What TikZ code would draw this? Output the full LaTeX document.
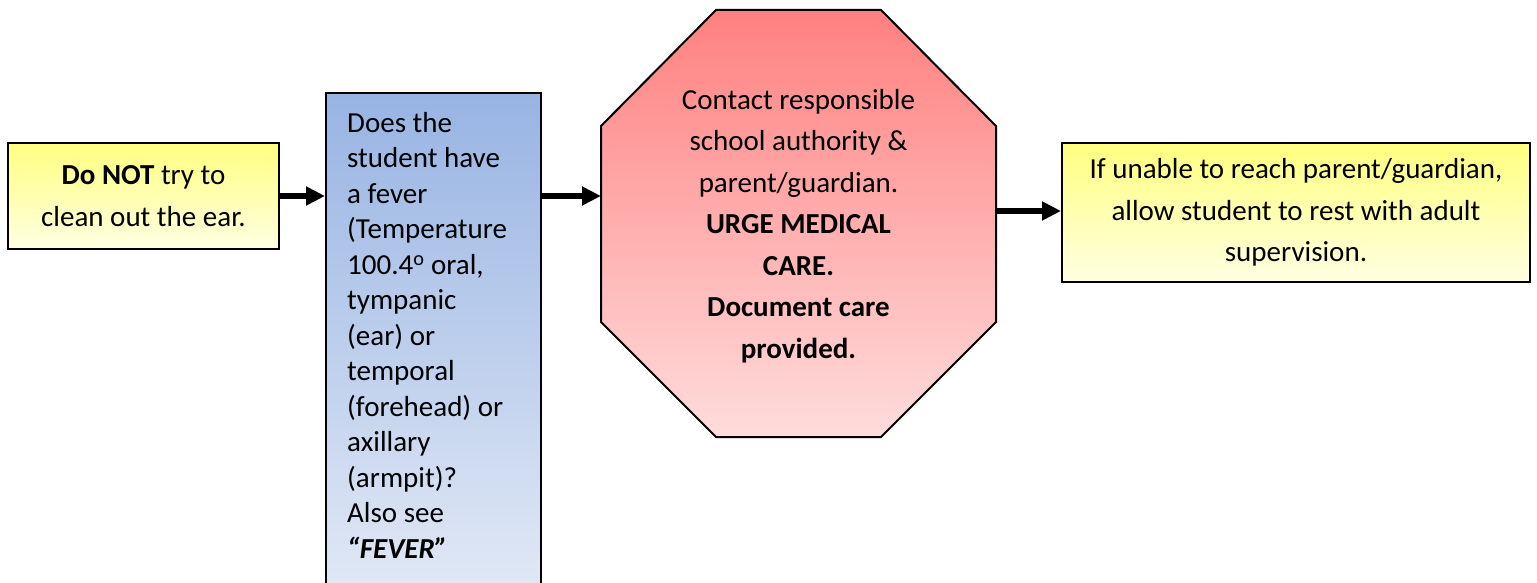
\documentclass[tikz,border=0pt]{standalone}
\usepackage{fontspec}
\setmainfont{Carlito}
\usetikzlibrary{arrows.meta,positioning}

\definecolor{yellowtop}{HTML}{FFFF80}
\definecolor{yellowbot}{HTML}{FFFFE2}
\definecolor{bluetop}{HTML}{98B4E3}
\definecolor{bluebot}{HTML}{E3EAF6}
\definecolor{redtop}{HTML}{FF8080}
\definecolor{redbot}{HTML}{FFDCDC}

\tikzset{
  box/.style={draw,line width=2pt,align=center,inner sep=0pt},
  yellowbox/.style={box,top color=yellowtop,bottom color=yellowbot},
  bluebox/.style={box,top color=bluetop,bottom color=bluebot},
  stopsign/.style={draw,line width=2pt,top color=redtop,bottom color=redbot},
  flow/.style={line width=6pt,-{Triangle[length=19pt,width=18pt]}},
}

\begin{document}
\begin{tikzpicture}[x=1pt,y=-1pt,font=\fontsize{29}{41.5}\selectfont]
\useasboundingbox (0,0) rectangle (1537,583);
\node[yellowbox,minimum width=271,minimum height=106] (noclean) at (143.5,196)
  {\textbf{Do NOT} try to\\clean out the ear.};
\node[bluebox,anchor=north west,minimum width=215,minimum height=512] (question) at (325,92) {};
\node[anchor=north west,align=left,inner sep=0pt,font=\fontsize{29}{35.5}\selectfont]
  (questiontext) at ([shift={(22,20)}]question.north west)
  {Does the\\student have\\a fever\\(Temperature\\100.4\textsuperscript{o} oral,\\tympanic\\(ear) or\\temporal\\(forehead) or\\axillary\\(armpit)?\\Also see\\\textbf{\textit{“FEVER”}}};
% octagon (stop sign)
\shade[stopsign] (716,10) -- (881,10) -- (996,126) -- (996,322) -- (881,437)
  -- (716,437) -- (601,322) -- (601,126) -- cycle;
\coordinate (stopW) at (601,196);
\coordinate (stopE) at (996,211);
\node[align=center,inner sep=0pt] (stop) at (798.5,226)
  {Contact responsible\\school authority \&\\parent/guardian.\\\textbf{URGE MEDICAL}\\\textbf{CARE.}\\\textbf{Document care}\\\textbf{provided.}};
\node[yellowbox,minimum width=468,minimum height=139] (rest) at (1296,212.5)
  {If unable to reach parent/guardian,\\allow student to rest with adult\\supervision.};
\draw[flow] (noclean.east) -- (noclean.east -| question.west);
\draw[flow] (question.east |- noclean.east) -- (noclean.east -| stopW);
\draw[flow] (stopE) -- (stopE -| rest.west);
\end{tikzpicture}
\end{document}
